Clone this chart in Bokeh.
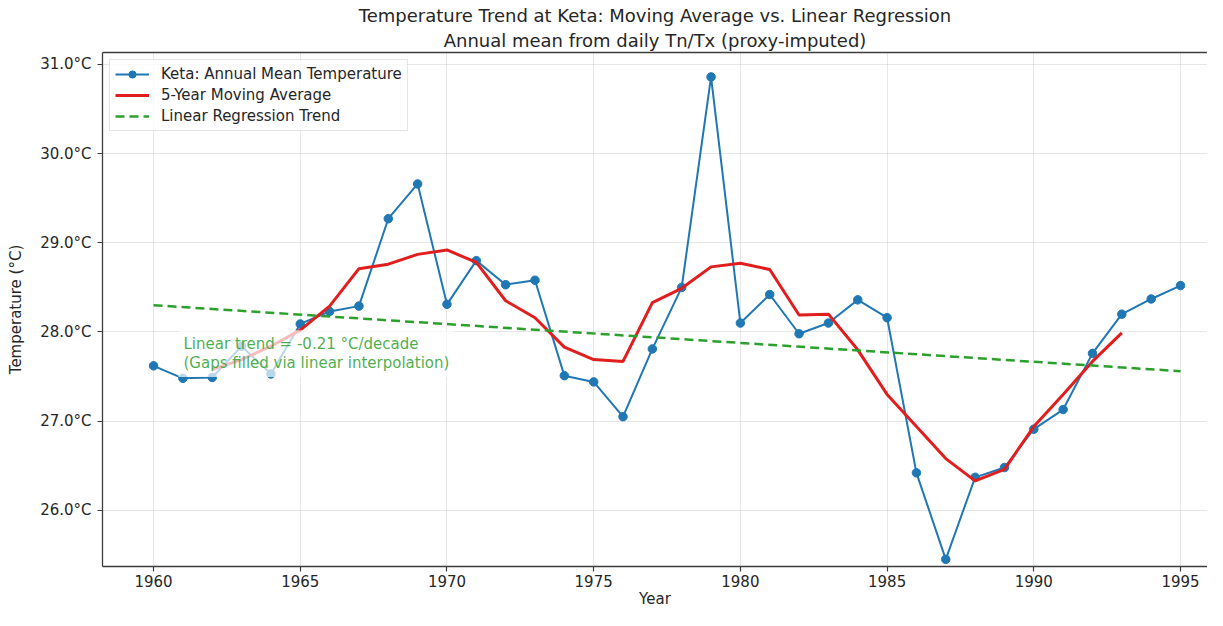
from bokeh.plotting import figure
from bokeh.models import (Range1d, FixedTicker, PrintfTickFormatter, Legend, LegendItem,
                          Label, Title, LinearAxis)
from bokeh.embed import file_html
from bokeh.resources import INLINE

# ---- data ----
years = list(range(1960, 1996))
annual_mean = [27.62, 27.48, 27.49, 27.84, 27.53, 28.09, 28.23, 28.29, 29.27, 29.66,
               28.31, 28.80, 28.53, 28.58, 27.51, 27.44, 27.05, 27.81, 28.50, 30.86,
               28.10, 28.42, 27.98, 28.10, 28.36, 28.16, 26.42, 25.45, 26.37, 26.48,
               26.91, 27.13, 27.76, 28.20, 28.37, 28.52]
ma_years = list(range(1962, 1994))
moving_avg = [27.58, 27.69, 27.84, 28.02, 28.29, 28.71, 28.76, 28.87, 28.92, 28.78,
              28.35, 28.16, 27.83, 27.69, 27.67, 28.33, 28.49, 28.73, 28.77, 28.70,
              28.19, 28.20, 27.80, 27.30, 26.94, 26.58, 26.33, 26.46, 26.94, 27.30,
              27.67, 27.99]
trend_years = [1960, 1995]
trend_vals = [28.30, 27.56]
x_ticks = [1960, 1965, 1970, 1975, 1980, 1985, 1990, 1995]
y_ticks = [26, 27, 28, 29, 30, 31]

title_main = "Temperature Trend at Keta: Moving Average vs. Linear Regression"
title_sub = "Annual mean from daily Tn/Tx (proxy-imputed)"
note_text = "Linear trend = -0.21 \u00b0C/decade\n(Gaps filled via linear interpolation)"

FONT = "DejaVu Sans"
TXT = "#262626"
SPINE = "#3c3c3c"
FS = "15px"

p = figure(width=1207, height=610, title=None,
           x_range=Range1d(1958.26, 1995.92), y_range=Range1d(25.37, 31.134),
           output_backend="svg", toolbar_location=None,
           min_border_left=102, min_border_right=0, min_border_bottom=40, min_border_top=52)
p.outline_line_color = None
p.background_fill_color = "white"
p.border_fill_color = "white"

xax = p.below[0]
yax = p.left[0]

for ax in (xax, yax):
    ax.axis_line_color = SPINE
    ax.axis_line_width = 1.3
    ax.major_tick_line_color = SPINE
    ax.major_tick_line_width = 1.2
    ax.major_tick_out = 5
    ax.major_tick_in = 0
    ax.minor_tick_line_color = None
    ax.major_label_text_font = FONT
    ax.major_label_text_font_size = FS
    ax.major_label_text_color = TXT
    ax.axis_label_text_font = FONT
    ax.axis_label_text_font_size = FS
    ax.axis_label_text_font_style = "normal"
    ax.axis_label_text_color = TXT

xax.ticker = FixedTicker(ticks=x_ticks)
yax.ticker = FixedTicker(ticks=y_ticks)
yax.formatter = PrintfTickFormatter(format="%.1f\u00b0C")
xax.axis_label = "Year"
yax.axis_label = "Temperature (\u00b0C)"
xax.major_label_standoff = 3
xax.axis_label_standoff = 0
yax.major_label_standoff = 6
yax.axis_label_standoff = 12

# top spine (an axis without ticks or labels)
top_ax = LinearAxis(ticker=FixedTicker(ticks=[]), major_tick_out=0, major_tick_in=0,
                    minor_tick_out=0, minor_tick_in=0, major_label_text_font_size="0px",
                    major_label_standoff=0, axis_line_color=SPINE, axis_line_width=1.3)
p.add_layout(top_ax, "above")
p.add_layout(Title(text=title_sub, align="center", text_font=FONT, text_font_size="18px",
                   text_font_style="normal", text_color=TXT, standoff=4), "above")
p.add_layout(Title(text=title_main, align="center", text_font=FONT, text_font_size="18px",
                   text_font_style="normal", text_color=TXT, standoff=0), "above")

for g in (p.xgrid[0], p.ygrid[0]):
    g.grid_line_color = "#b0b0b0"
    g.grid_line_alpha = 0.3
    g.grid_line_width = 1

blue = "#1f77b4"
red = "#e21d1d"
green = "#2ca02c"

r_line = p.line(years, annual_mean, line_color=blue, line_width=2)
r_pts = p.scatter(years, annual_mean, size=8.5, fill_color=blue, line_color=blue)
r_ma = p.line(ma_years, moving_avg, line_color=red, line_width=3)
r_tr = p.line(trend_years, trend_vals, line_color=green, line_width=2.5, line_dash="9 5")

note = Label(x=1960.85, y=28.02, text=note_text, text_baseline="top", text_align="left",
             text_font=FONT, text_font_size=FS, text_color=green, text_alpha=0.85,
             background_fill_color="white", background_fill_alpha=0.7,
             text_line_height=1.05, padding=5)
p.add_layout(note)

legend = Legend(items=[
    LegendItem(label="Keta: Annual Mean Temperature", renderers=[r_line, r_pts]),
    LegendItem(label="5-Year Moving Average", renderers=[r_ma]),
    LegendItem(label="Linear Regression Trend", renderers=[r_tr]),
], location="top_left")
legend.margin = 7
legend.padding = 5
legend.spacing = 3
legend.glyph_width = 34
legend.glyph_height = 18
legend.label_height = 18
legend.label_standoff = 12
legend.label_text_font = FONT
legend.label_text_font_size = FS
legend.label_text_color = TXT
legend.border_line_color = "#cccccc"
legend.border_line_width = 1
legend.background_fill_color = "white"
legend.background_fill_alpha = 0.8
p.add_layout(legend)

open("out.html", "w").write(file_html(p, INLINE))
